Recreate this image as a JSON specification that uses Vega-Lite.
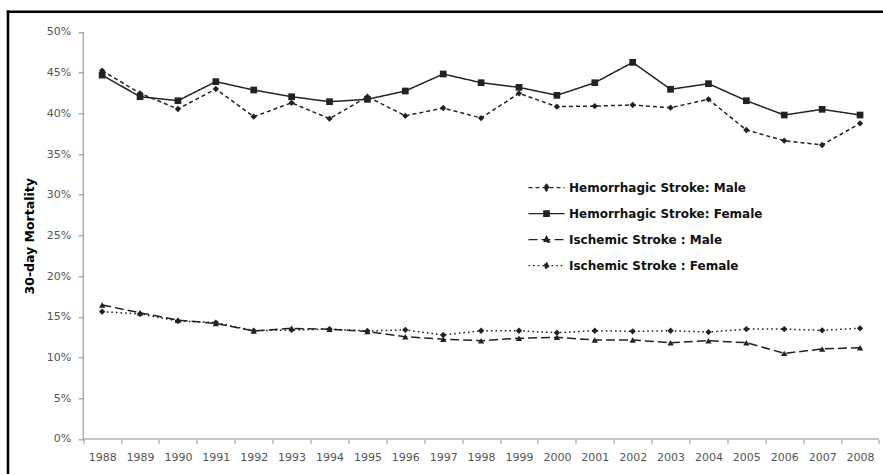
{
  "$schema": "https://vega.github.io/schema/vega-lite/v6.json",
  "width": 875.5,
  "height": 462.7,
  "autosize": {"type": "none"},
  "padding": {"left": 7.5, "top": 11.3, "right": 0, "bottom": 0},
  "background": "white",
  "view": {"stroke": "transparent"},
  "config": {
    "font": "DejaVu Sans",
    "view": {"stroke": "transparent"}
  },
  "resolve": {"axis": {"x": "independent", "y": "independent"}},
  "datasets": {
    "mortality": [
      {"year": 1988, "series": "Hemorrhagic Stroke: Male", "v": 0.4525},
      {"year": 1989, "series": "Hemorrhagic Stroke: Male", "v": 0.4247},
      {"year": 1990, "series": "Hemorrhagic Stroke: Male", "v": 0.4054},
      {"year": 1991, "series": "Hemorrhagic Stroke: Male", "v": 0.4300},
      {"year": 1992, "series": "Hemorrhagic Stroke: Male", "v": 0.3960},
      {"year": 1993, "series": "Hemorrhagic Stroke: Male", "v": 0.4130},
      {"year": 1994, "series": "Hemorrhagic Stroke: Male", "v": 0.3935},
      {"year": 1995, "series": "Hemorrhagic Stroke: Male", "v": 0.4205},
      {"year": 1996, "series": "Hemorrhagic Stroke: Male", "v": 0.3970},
      {"year": 1997, "series": "Hemorrhagic Stroke: Male", "v": 0.4066},
      {"year": 1998, "series": "Hemorrhagic Stroke: Male", "v": 0.3943},
      {"year": 1999, "series": "Hemorrhagic Stroke: Male", "v": 0.4247},
      {"year": 2000, "series": "Hemorrhagic Stroke: Male", "v": 0.4083},
      {"year": 2001, "series": "Hemorrhagic Stroke: Male", "v": 0.4090},
      {"year": 2002, "series": "Hemorrhagic Stroke: Male", "v": 0.4103},
      {"year": 2003, "series": "Hemorrhagic Stroke: Male", "v": 0.4070},
      {"year": 2004, "series": "Hemorrhagic Stroke: Male", "v": 0.4173},
      {"year": 2005, "series": "Hemorrhagic Stroke: Male", "v": 0.3796},
      {"year": 2006, "series": "Hemorrhagic Stroke: Male", "v": 0.3665},
      {"year": 2007, "series": "Hemorrhagic Stroke: Male", "v": 0.3612},
      {"year": 2008, "series": "Hemorrhagic Stroke: Male", "v": 0.3878},
      {"year": 1988, "series": "Hemorrhagic Stroke: Female", "v": 0.4470},
      {"year": 1989, "series": "Hemorrhagic Stroke: Female", "v": 0.4205},
      {"year": 1990, "series": "Hemorrhagic Stroke: Female", "v": 0.4156},
      {"year": 1991, "series": "Hemorrhagic Stroke: Female", "v": 0.4390},
      {"year": 1992, "series": "Hemorrhagic Stroke: Female", "v": 0.4287},
      {"year": 1993, "series": "Hemorrhagic Stroke: Female", "v": 0.4205},
      {"year": 1994, "series": "Hemorrhagic Stroke: Female", "v": 0.4144},
      {"year": 1995, "series": "Hemorrhagic Stroke: Female", "v": 0.4173},
      {"year": 1996, "series": "Hemorrhagic Stroke: Female", "v": 0.4275},
      {"year": 1997, "series": "Hemorrhagic Stroke: Female", "v": 0.4484},
      {"year": 1998, "series": "Hemorrhagic Stroke: Female", "v": 0.4377},
      {"year": 1999, "series": "Hemorrhagic Stroke: Female", "v": 0.4320},
      {"year": 2000, "series": "Hemorrhagic Stroke: Female", "v": 0.4222},
      {"year": 2001, "series": "Hemorrhagic Stroke: Female", "v": 0.4377},
      {"year": 2002, "series": "Hemorrhagic Stroke: Female", "v": 0.4627},
      {"year": 2003, "series": "Hemorrhagic Stroke: Female", "v": 0.4296},
      {"year": 2004, "series": "Hemorrhagic Stroke: Female", "v": 0.4365},
      {"year": 2005, "series": "Hemorrhagic Stroke: Female", "v": 0.4156},
      {"year": 2006, "series": "Hemorrhagic Stroke: Female", "v": 0.3980},
      {"year": 2007, "series": "Hemorrhagic Stroke: Female", "v": 0.4050},
      {"year": 2008, "series": "Hemorrhagic Stroke: Female", "v": 0.3980},
      {"year": 1988, "series": "Ischemic Stroke : Male", "v": 0.1646},
      {"year": 1989, "series": "Ischemic Stroke : Male", "v": 0.1550},
      {"year": 1990, "series": "Ischemic Stroke : Male", "v": 0.1460},
      {"year": 1991, "series": "Ischemic Stroke : Male", "v": 0.1420},
      {"year": 1992, "series": "Ischemic Stroke : Male", "v": 0.1327},
      {"year": 1993, "series": "Ischemic Stroke : Male", "v": 0.1360},
      {"year": 1994, "series": "Ischemic Stroke : Male", "v": 0.1347},
      {"year": 1995, "series": "Ischemic Stroke : Male", "v": 0.1320},
      {"year": 1996, "series": "Ischemic Stroke : Male", "v": 0.1257},
      {"year": 1997, "series": "Ischemic Stroke : Male", "v": 0.1225},
      {"year": 1998, "series": "Ischemic Stroke : Male", "v": 0.1208},
      {"year": 1999, "series": "Ischemic Stroke : Male", "v": 0.1237},
      {"year": 2000, "series": "Ischemic Stroke : Male", "v": 0.1249},
      {"year": 2001, "series": "Ischemic Stroke : Male", "v": 0.1216},
      {"year": 2002, "series": "Ischemic Stroke : Male", "v": 0.1216},
      {"year": 2003, "series": "Ischemic Stroke : Male", "v": 0.1183},
      {"year": 2004, "series": "Ischemic Stroke : Male", "v": 0.1208},
      {"year": 2005, "series": "Ischemic Stroke : Male", "v": 0.1183},
      {"year": 2006, "series": "Ischemic Stroke : Male", "v": 0.1052},
      {"year": 2007, "series": "Ischemic Stroke : Male", "v": 0.1106},
      {"year": 2008, "series": "Ischemic Stroke : Male", "v": 0.1122},
      {"year": 1988, "series": "Ischemic Stroke : Female", "v": 0.1564},
      {"year": 1989, "series": "Ischemic Stroke : Female", "v": 0.1536},
      {"year": 1990, "series": "Ischemic Stroke : Female", "v": 0.1450},
      {"year": 1991, "series": "Ischemic Stroke : Female", "v": 0.1430},
      {"year": 1992, "series": "Ischemic Stroke : Female", "v": 0.1330},
      {"year": 1993, "series": "Ischemic Stroke : Female", "v": 0.1340},
      {"year": 1994, "series": "Ischemic Stroke : Female", "v": 0.1350},
      {"year": 1995, "series": "Ischemic Stroke : Female", "v": 0.1327},
      {"year": 1996, "series": "Ischemic Stroke : Female", "v": 0.1340},
      {"year": 1997, "series": "Ischemic Stroke : Female", "v": 0.1278},
      {"year": 1998, "series": "Ischemic Stroke : Female", "v": 0.1330},
      {"year": 1999, "series": "Ischemic Stroke : Female", "v": 0.1330},
      {"year": 2000, "series": "Ischemic Stroke : Female", "v": 0.1306},
      {"year": 2001, "series": "Ischemic Stroke : Female", "v": 0.1330},
      {"year": 2002, "series": "Ischemic Stroke : Female", "v": 0.1323},
      {"year": 2003, "series": "Ischemic Stroke : Female", "v": 0.1330},
      {"year": 2004, "series": "Ischemic Stroke : Female", "v": 0.1314},
      {"year": 2005, "series": "Ischemic Stroke : Female", "v": 0.1350},
      {"year": 2006, "series": "Ischemic Stroke : Female", "v": 0.1350},
      {"year": 2007, "series": "Ischemic Stroke : Female", "v": 0.1335},
      {"year": 2008, "series": "Ischemic Stroke : Female", "v": 0.1360}
    ],
    "axislines": [
      {"year": 1987.5, "year2": 2008.5, "v": 0, "v2": 0},
      {"year": 1987.5, "year2": 1987.5, "v": 0, "v2": 0.5}
    ]
  },
  "layer": [
    {
      "data": {"name": "axislines"},
      "mark": {"type": "rule", "color": "#8c8c8c", "strokeWidth": 1},
      "encoding": {
        "x": {
          "field": "year", "type": "quantitative",
          "scale": {"domain": [1985.5024, 2008.6057], "nice": false, "zero": false},
          "axis": {"orient": "top", "offset": 0, "title": null, "labels": false, "ticks": false, "grid": false,
                   "domain": true, "domainColor": "#000", "domainWidth": 2.6, "domainCap": "square"}
        },
        "x2": {"field": "year2"},
        "y": {
          "field": "v", "type": "quantitative",
          "scale": {"domain": [-0.043, 0.52543], "nice": false, "zero": false},
          "axis": {"orient": "left", "offset": 0, "title": null, "labels": false, "ticks": false, "grid": false,
                   "domain": true, "domainColor": "#000", "domainWidth": 2.6, "domainCap": "square"}
        },
        "y2": {"field": "v2"}
      }
    },
    {
      "data": {"name": "mortality"},
      "mark": {"type": "line", "color": "#222", "strokeWidth": 1.5},
      "encoding": {
        "x": {
          "field": "year", "type": "quantitative",
          "scale": {"domain": [1985.5024, 2008.6057], "nice": false, "zero": false},
          "axis": {
            "orient": "bottom", "offset": -34.7, "title": null, "domain": false, "grid": false,
            "values": [1987, 1988, 1989, 1990, 1991, 1992, 1993, 1994, 1995, 1996, 1997, 1998, 1999, 2000, 2001, 2002, 2003, 2004, 2005, 2006, 2007, 2008],
            "tickOffset": 18.95, "labelOffset": -18.95, "tickSize": 4, "tickColor": "#8c8c8c",
            "labelExpr": "datum.value == 1987 ? '' : datum.label", "format": "d",
            "labelFont": "DejaVu Sans", "labelFontSize": 11, "labelColor": "#555", "labelPadding": 8
          }
        },
        "y": {
          "field": "v", "type": "quantitative",
          "scale": {"domain": [-0.043, 0.52543], "nice": false, "zero": false},
          "axis": {
            "orient": "left", "offset": -75.7, "domain": false, "grid": false,
            "values": [0, 0.05, 0.1, 0.15, 0.2, 0.25, 0.3, 0.35, 0.4, 0.45, 0.5],
            "format": ".0%", "tickSize": 5, "tickColor": "#8c8c8c",
            "labelFont": "DejaVu Sans", "labelFontSize": 11, "labelColor": "#555", "labelPadding": 7.5,
            "title": "30-day Mortality", "titleFont": "DejaVu Sans", "titleFontSize": 12.5, "titleFontWeight": "bold",
            "titleColor": "#000", "titleAngle": 270, "titleAlign": "center", "titleBaseline": "middle",
            "titleX": -53.2, "titleY": 224.5
          }
        },
        "strokeDash": {
          "field": "series", "type": "nominal",
          "scale": {
            "domain": ["Hemorrhagic Stroke: Male", "Hemorrhagic Stroke: Female", "Ischemic Stroke : Male", "Ischemic Stroke : Female"],
            "range": [[4, 3], [1, 0], [9, 4], [1.6, 3]]
          },
          "legend": {
            "orient": "none", "legendX": 532, "legendY": 169.4, "title": null, "padding": 0,
            "symbolSize": 144, "symbolStrokeWidth": 1.3, "symbolStrokeColor": "#222",
            "rowPadding": 13, "labelOffset": 15.5, "labelLimit": 400,
            "labelFont": "DejaVu Sans", "labelFontSize": 12, "labelFontWeight": "bold", "labelColor": "#111",
            "encode": {
              "symbols": {
                "update": {
                  "fill": {"value": "#222"},
                  "stroke": {"value": "#222"},
                  "strokeWidth": {"value": 1.3},
                  "shape": {"signal": "datum.value === 'Hemorrhagic Stroke: Male' ? 'M-3,0H3M0,-0.55L0.45,0L0,0.55L-0.45,0Z' : datum.value === 'Hemorrhagic Stroke: Female' ? 'M-3,0H3M-0.45,-0.45H0.45V0.45H-0.45Z' : datum.value === 'Ischemic Stroke : Male' ? 'M-3,0H3M0,-0.55L0.5,0.4H-0.5Z' : 'M-3,0H3M0,-0.55L0.45,0L0,0.55L-0.45,0Z'"}
                }
              }
            }
          }
        },
        "detail": {"field": "series"}
      }
    },
    {
      "data": {"name": "mortality"},
      "transform": [{"filter": {"field": "series", "oneOf": ["Hemorrhagic Stroke: Male", "Ischemic Stroke : Female"]}}],
      "mark": {"type": "point", "filled": true, "color": "#222", "opacity": 1, "size": 40, "shape": "diamond"},
      "encoding": {
        "x": {"field": "year", "type": "quantitative", "scale": {"domain": [1985.5024, 2008.6057], "nice": false, "zero": false},
              "axis": {"orient": "bottom", "domain": false, "ticks": false, "labels": false, "grid": false, "title": null}},
        "y": {"field": "v", "type": "quantitative", "scale": {"domain": [-0.043, 0.52543], "nice": false, "zero": false},
              "axis": {"orient": "left", "domain": false, "ticks": false, "labels": false, "grid": false, "title": null}}
      }
    },
    {
      "data": {"name": "mortality"},
      "transform": [{"filter": {"field": "series", "equal": "Hemorrhagic Stroke: Female"}}],
      "mark": {"type": "point", "filled": true, "color": "#222", "opacity": 1, "size": 45, "shape": "square"},
      "encoding": {
        "x": {"field": "year", "type": "quantitative", "scale": {"domain": [1985.5024, 2008.6057], "nice": false, "zero": false},
              "axis": {"orient": "bottom", "domain": false, "ticks": false, "labels": false, "grid": false, "title": null}},
        "y": {"field": "v", "type": "quantitative", "scale": {"domain": [-0.043, 0.52543], "nice": false, "zero": false},
              "axis": {"orient": "left", "domain": false, "ticks": false, "labels": false, "grid": false, "title": null}}
      }
    },
    {
      "data": {"name": "mortality"},
      "transform": [{"filter": {"field": "series", "equal": "Ischemic Stroke : Male"}}],
      "mark": {"type": "point", "filled": true, "color": "#222", "opacity": 1, "size": 40, "shape": "triangle-up"},
      "encoding": {
        "x": {"field": "year", "type": "quantitative", "scale": {"domain": [1985.5024, 2008.6057], "nice": false, "zero": false},
              "axis": {"orient": "bottom", "domain": false, "ticks": false, "labels": false, "grid": false, "title": null}},
        "y": {"field": "v", "type": "quantitative", "scale": {"domain": [-0.043, 0.52543], "nice": false, "zero": false},
              "axis": {"orient": "left", "domain": false, "ticks": false, "labels": false, "grid": false, "title": null}}
      }
    }
  ]
}
